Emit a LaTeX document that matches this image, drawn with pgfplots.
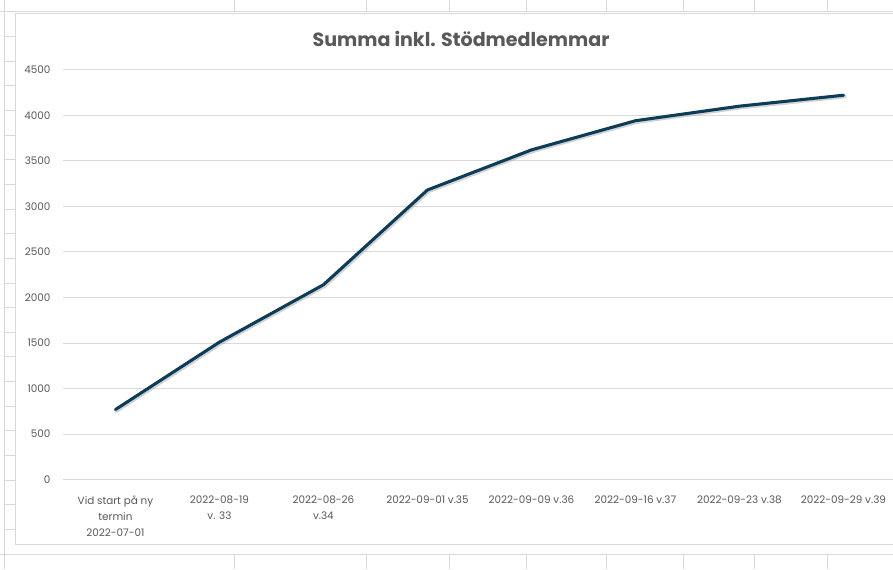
\documentclass[border=0pt]{standalone}
\usepackage{fontspec}
\setmainfont{Poppins}
\usepackage{pgfplots}
\pgfplotsset{compat=1.18}
\definecolor{linec}{RGB}{12,60,88}
\definecolor{gridc}{RGB}{217,217,217}
\definecolor{textc}{RGB}{89,89,89}
\begin{document}
\begin{tikzpicture}[x=0.75pt,y=0.75pt]
\useasboundingbox (0,0) rectangle (893,569);
% spreadsheet background
\fill[white] (0,0) rectangle (893,569);
\begin{scope}[gridc, line width=0.75pt]
  \draw (4,0) -- (4,569);
  \draw (0,557) -- (893,557);
  \draw (0,15) -- (893,15);
  \foreach \k in {1,...,21} { \draw (4,{557-24.64*\k}) -- (15,{557-24.64*\k}); }
  \foreach \xx in {234,366,449,526,606,683,754,827} {
    \draw (\xx,557) -- (\xx,569);
    \draw (\xx,0) -- (\xx,15);
  }
  \draw[fill=white] (15,25) rectangle (900,555);
\end{scope}
\node[anchor=base, text=textc, font=\fontsize{14.3}{16}\selectfont\bfseries] at (461,522) {Summa inkl. Stödmedlemmar};
\begin{axis}[
  at={(61,98)}, anchor=south west,
  scale only axis, width=624pt, height=307.5pt,
  xmin=-0.5, xmax=7.5, ymin=0, ymax=4500,
  ytick={0,500,1000,1500,2000,2500,3000,3500,4000,4500},
  yticklabels={0,500,1000,1500,2000,2500,3000,3500,4000,4500},
  xtick={0,...,7},
  xticklabels={{Vid start på ny\\termin\\2022-07-01},{2022-08-19\\v. 33},{2022-08-26\\v.34},{2022-09-01 v.35},{2022-09-09 v.36},{2022-09-16 v.37},{2022-09-23 v.38},{2022-09-29 v.39}},
  axis line style={draw=none},
  major tick length=0pt,
  ymajorgrids, grid style={gridc, line width=0.75pt},
  tick label style={text=textc, font=\fontsize{7.8}{12}\selectfont},
  yticklabel style={anchor=east, inner sep=0pt, xshift=-9.5pt},
  xticklabel style={anchor=north, inner sep=0pt, yshift=-12pt, align=center},
  clip=false,
]
\addplot[black!35, opacity=0.5, line width=3.2pt, line join=round, line cap=round, xshift=0.8pt, yshift=-0.8pt] coordinates {
  (0,770) (1,1510) (2,2140) (3,3180) (4,3620) (5,3940) (6,4100) (7,4220)
};
\addplot[linec, line width=2.3pt, line join=round, line cap=round] coordinates {
  (0,770) (1,1510) (2,2140) (3,3180) (4,3620) (5,3940) (6,4100) (7,4220)
};
\end{axis}
\end{tikzpicture}
\end{document}
